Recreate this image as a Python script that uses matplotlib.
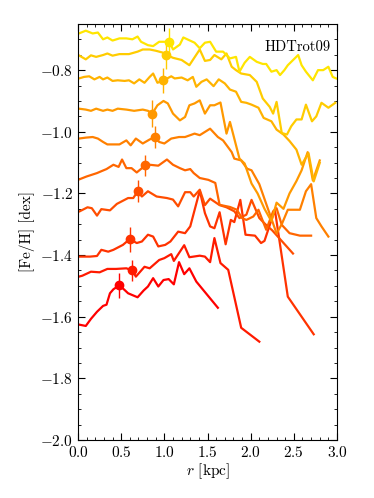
import numpy as np
import matplotlib
matplotlib.use("Agg")
import matplotlib.pyplot as plt
from matplotlib.ticker import MultipleLocator

plt.rcParams['font.family'] = 'serif'
plt.rcParams['font.serif'] = ['cmr10', 'DejaVu Serif']
plt.rcParams['mathtext.fontset'] = 'cm'
plt.rcParams['axes.formatter.use_mathtext'] = True

# profiles, from lowest (red) to highest (yellow)
r1 = [0.0, 0.09, 0.15, 0.22, 0.29, 0.33, 0.37, 0.41, 0.48, 0.55, 0.58, 0.69, 0.76, 0.81, 0.87, 0.93, 0.99, 1.05, 1.11, 1.17, 1.23, 1.29, 1.37, 1.62]
f1 = [-1.625, -1.630, -1.607, -1.584, -1.565, -1.561, -1.524, -1.511, -1.498, -1.516, -1.524, -1.537, -1.515, -1.502, -1.475, -1.502, -1.481, -1.478, -1.495, -1.423, -1.462, -1.443, -1.486, -1.571]

r2 = [0.01, 0.05, 0.15, 0.25, 0.34, 0.44, 0.56, 0.63, 0.67, 0.77, 0.83, 0.94, 1.0, 1.08, 1.11, 1.23, 1.29, 1.41, 1.47, 1.53, 1.58, 1.65, 1.74, 1.89, 2.10]
f2 = [-1.470, -1.467, -1.454, -1.456, -1.445, -1.445, -1.443, -1.450, -1.470, -1.438, -1.443, -1.416, -1.410, -1.397, -1.419, -1.368, -1.407, -1.402, -1.405, -1.423, -1.345, -1.426, -1.448, -1.636, -1.681]

r3 = [0.02, 0.14, 0.22, 0.27, 0.35, 0.41, 0.52, 0.60, 0.68, 0.74, 0.81, 0.87, 0.93, 1.01, 1.07, 1.16, 1.24, 1.30, 1.41, 1.47, 1.53, 1.58, 1.64, 1.71, 1.77, 1.81, 1.88, 1.94, 2.05, 2.12, 2.16, 2.28, 2.43, 2.73]
f3 = [-1.405, -1.405, -1.403, -1.383, -1.389, -1.383, -1.367, -1.348, -1.361, -1.356, -1.334, -1.340, -1.372, -1.367, -1.356, -1.324, -1.329, -1.307, -1.191, -1.264, -1.307, -1.313, -1.261, -1.365, -1.286, -1.293, -1.221, -1.334, -1.337, -1.361, -1.354, -1.253, -1.535, -1.657]

r4 = [0.02, 0.11, 0.16, 0.22, 0.27, 0.37, 0.45, 0.58, 0.64, 0.69, 0.74, 0.81, 0.91, 1.03, 1.10, 1.16, 1.24, 1.30, 1.34, 1.41, 1.47, 1.53, 1.64, 1.72, 1.81, 1.87, 1.95, 2.01, 2.10, 2.17, 2.25, 2.49]
f4 = [-1.258, -1.245, -1.248, -1.272, -1.251, -1.255, -1.234, -1.215, -1.215, -1.194, -1.210, -1.193, -1.210, -1.215, -1.220, -1.242, -1.196, -1.196, -1.210, -1.188, -1.238, -1.217, -1.238, -1.245, -1.258, -1.280, -1.269, -1.221, -1.280, -1.300, -1.320, -1.395]

r5 = [0.0, 0.10, 0.22, 0.27, 0.33, 0.41, 0.47, 0.51, 0.56, 0.62, 0.68, 0.78, 0.83, 0.93, 1.03, 1.10, 1.18, 1.24, 1.30, 1.34, 1.41, 1.51, 1.59, 1.64, 1.76, 1.84, 1.90, 1.95, 2.03, 2.09, 2.18, 2.26, 2.30, 2.36, 2.45, 2.57, 2.70]
f5 = [-1.156, -1.145, -1.134, -1.128, -1.121, -1.107, -1.114, -1.090, -1.118, -1.118, -1.132, -1.109, -1.107, -1.110, -1.090, -1.107, -1.118, -1.125, -1.121, -1.134, -1.150, -1.156, -1.166, -1.237, -1.244, -1.253, -1.280, -1.286, -1.275, -1.253, -1.318, -1.258, -1.248, -1.302, -1.329, -1.337, -1.337]

r6 = [0.01, 0.09, 0.17, 0.23, 0.29, 0.34, 0.48, 0.56, 0.61, 0.67, 0.75, 0.83, 0.89, 0.94, 1.0, 1.08, 1.17, 1.24, 1.35, 1.41, 1.53, 1.62, 1.68, 1.78, 1.81, 1.89, 1.96, 2.01, 2.10, 2.20, 2.30, 2.36, 2.43, 2.50, 2.57, 2.64, 2.70, 2.76, 2.82, 2.90]
f6 = [-1.022, -1.019, -1.017, -1.022, -1.033, -1.041, -1.041, -1.028, -1.044, -1.022, -1.038, -1.025, -1.017, -1.033, -1.038, -1.022, -1.017, -1.017, -1.006, -1.011, -0.990, -1.017, -1.028, -1.066, -1.087, -1.093, -1.120, -1.125, -1.170, -1.250, -1.330, -1.300, -1.253, -1.253, -1.253, -1.193, -1.170, -1.280, -1.307, -1.340]

r7 = [0.01, 0.09, 0.15, 0.21, 0.29, 0.34, 0.40, 0.46, 0.56, 0.65, 0.75, 0.81, 0.86, 0.92, 0.99, 1.04, 1.10, 1.18, 1.24, 1.29, 1.35, 1.41, 1.47, 1.53, 1.58, 1.65, 1.72, 1.76, 1.80, 1.87, 1.93, 2.01, 2.08, 2.16, 2.24, 2.30, 2.38, 2.45, 2.53, 2.59, 2.66, 2.72, 2.80]
f7 = [-0.925, -0.928, -0.932, -0.925, -0.932, -0.928, -0.932, -0.925, -0.928, -0.932, -0.928, -0.932, -0.941, -0.914, -0.900, -0.908, -0.941, -0.963, -0.952, -0.914, -0.908, -0.898, -0.941, -0.914, -0.914, -0.905, -1.006, -0.968, -1.011, -1.087, -1.103, -1.168, -1.200, -1.250, -1.290, -1.230, -1.250, -1.200, -1.160, -1.125, -1.066, -1.158, -1.093]

r8 = [0.01, 0.07, 0.13, 0.19, 0.25, 0.29, 0.34, 0.40, 0.46, 0.54, 0.59, 0.65, 0.71, 0.77, 0.83, 0.87, 0.92, 0.99, 1.08, 1.12, 1.20, 1.27, 1.33, 1.37, 1.43, 1.49, 1.57, 1.63, 1.70, 1.76, 1.83, 1.89, 1.95, 2.01, 2.09, 2.15, 2.24, 2.30, 2.38, 2.45, 2.53, 2.59, 2.67, 2.73, 2.80]
f8 = [-0.827, -0.822, -0.820, -0.830, -0.822, -0.830, -0.824, -0.835, -0.833, -0.835, -0.833, -0.843, -0.830, -0.841, -0.822, -0.811, -0.841, -0.833, -0.820, -0.827, -0.824, -0.833, -0.822, -0.854, -0.838, -0.830, -0.852, -0.830, -0.843, -0.863, -0.870, -0.903, -0.906, -0.912, -0.922, -0.955, -0.966, -0.993, -1.009, -1.030, -1.058, -1.107, -1.069, -1.161, -1.101]

r9 = [0.01, 0.09, 0.15, 0.21, 0.29, 0.34, 0.40, 0.48, 0.59, 0.69, 0.75, 0.83, 0.90, 0.98, 1.03, 1.10, 1.20, 1.29, 1.41, 1.47, 1.53, 1.58, 1.66, 1.72, 1.78, 1.83, 1.89, 1.99, 2.07, 2.14, 2.22, 2.26, 2.30, 2.36, 2.42, 2.47, 2.53, 2.59, 2.64, 2.71, 2.76, 2.82, 2.90, 2.98]
f9 = [-0.752, -0.765, -0.752, -0.757, -0.751, -0.746, -0.753, -0.748, -0.748, -0.740, -0.733, -0.733, -0.737, -0.743, -0.751, -0.760, -0.767, -0.784, -0.733, -0.770, -0.767, -0.751, -0.765, -0.746, -0.789, -0.800, -0.811, -0.816, -0.838, -0.892, -0.919, -0.941, -0.903, -1.004, -1.009, -0.982, -0.960, -0.960, -0.912, -0.966, -0.950, -0.906, -0.922, -0.906]

r10 = [0.01, 0.09, 0.17, 0.23, 0.29, 0.34, 0.40, 0.48, 0.56, 0.63, 0.69, 0.73, 0.81, 0.87, 0.94, 1.06, 1.10, 1.18, 1.22, 1.35, 1.41, 1.47, 1.53, 1.60, 1.68, 1.76, 1.83, 1.87, 1.93, 1.99, 2.07, 2.14, 2.18, 2.24, 2.30, 2.34, 2.39, 2.43, 2.55, 2.59, 2.64, 2.72, 2.78, 2.84, 2.90, 2.95, 2.99]
f10 = [-0.681, -0.672, -0.681, -0.678, -0.700, -0.694, -0.704, -0.697, -0.697, -0.700, -0.691, -0.708, -0.719, -0.722, -0.708, -0.708, -0.733, -0.717, -0.694, -0.711, -0.729, -0.711, -0.708, -0.740, -0.740, -0.762, -0.757, -0.805, -0.776, -0.757, -0.773, -0.780, -0.780, -0.805, -0.800, -0.816, -0.800, -0.784, -0.751, -0.784, -0.805, -0.833, -0.800, -0.800, -0.789, -0.822, -0.827]

# characteristic radius and metallicity (markers with error bars)
r_mark = [0.47, 0.62, 0.60, 0.69, 0.78, 0.89, 0.86, 0.99, 1.02, 1.05]
f_mark = [-1.498, -1.450, -1.349, -1.193, -1.109, -1.017, -0.941, -0.833, -0.751, -0.708]
f_err = [0.04, 0.035, 0.04, 0.035, 0.035, 0.035, 0.045, 0.04, 0.045, 0.045]

radii = [r1, r2, r3, r4, r5, r6, r7, r8, r9, r10]
fehs = [f1, f2, f3, f4, f5, f6, f7, f8, f9, f10]


def main():
    fig = plt.figure(figsize=(3.74, 4.98), dpi=100)
    ax = fig.add_axes([0.2086, 0.1165, 0.6925, 0.8355])

    n = len(radii)
    for i in range(n):
        c = (1.0, 0.9 * i / (n - 1), 0.0)
        ax.plot(radii[i], fehs[i], color=c, lw=1.6)
        ax.errorbar(r_mark[i], f_mark[i], yerr=f_err[i], fmt='o', color=c,
                    ms=6, elinewidth=1.0, capsize=0)

    ax.text(0.975, 0.944, 'HDTrot09', transform=ax.transAxes,
            ha='right', va='center', fontsize=10.5)

    ax.set_xlim(0.0, 3.0)
    ax.set_ylim(-2.0, -0.65)
    ax.xaxis.set_major_locator(MultipleLocator(0.5))
    ax.xaxis.set_minor_locator(MultipleLocator(0.1))
    ax.yaxis.set_major_locator(MultipleLocator(0.2))
    ax.yaxis.set_minor_locator(MultipleLocator(0.05))
    ax.tick_params(which='both', direction='in', top=True, right=True, labelsize=11)
    ax.tick_params(which='major', length=5)
    ax.tick_params(which='minor', length=2.5)
    ax.set_xlabel(r'$r$ [kpc]', fontsize=11, labelpad=1)
    ax.set_ylabel('[Fe/H] [dex]', fontsize=11)

    plt.savefig('out.png', dpi=100)


if __name__ == "__main__":
    main()
